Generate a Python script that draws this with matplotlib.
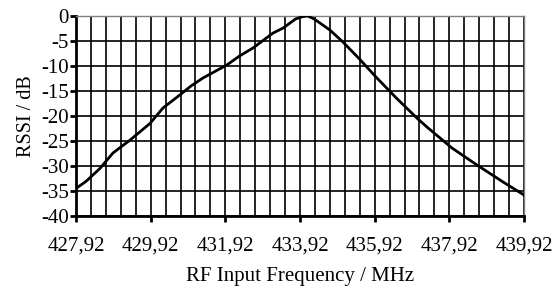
import matplotlib
matplotlib.use("Agg")
import matplotlib.pyplot as plt
import numpy as np

freq = [427.92, 428.2, 428.56, 428.91, 429.37, 429.9, 430.25, 430.7, 431.0, 431.32,
        431.96, 432.3, 432.66, 433.2, 433.47, 433.8, 434.0, 434.13, 434.3, 434.72,
        435.07, 435.5, 435.98, 436.5, 437.05, 437.32, 437.99, 438.66, 439.36, 439.92]
rssi = [-34.5, -33.0, -30.5, -27.4, -24.8, -21.5, -18.4, -15.8, -14.0, -12.4,
        -9.8, -8.0, -6.4, -3.4, -2.4, -0.6, -0.1, 0.0, -0.6, -2.8,
        -5.2, -8.5, -12.4, -16.4, -20.4, -22.2, -26.4, -29.8, -33.2, -35.8]
xtick_vals = [427.92, 429.92, 431.92, 433.92, 435.92, 437.92, 439.92]
xtick_labels = ["427,92", "429,92", "431,92", "433,92", "435,92", "437,92", "439,92"]
ytick_vals = [0, -5, -10, -15, -20, -25, -30, -35, -40]

plt.rcParams['font.family'] = ['Liberation Serif']
fig = plt.figure(figsize=(5.56, 2.91), dpi=100)
ax = fig.add_axes([76/556, 1 - 216/291, 448/556, 200/291])

minor_x = np.arange(427.92, 439.93, 0.4)
for xv in minor_x:
    ax.axvline(xv, color='black', lw=1.2, zorder=1)
for yv in ytick_vals:
    ax.axhline(yv, color='black', lw=1.2, zorder=1)

ax.plot(freq, rssi, color='black', lw=2, zorder=3)
ax.set_xlim(427.92, 439.92)
ax.set_ylim(-40, 0)
ax.set_xticks(xtick_vals)
ax.set_xticklabels(xtick_labels)
ax.set_yticks(ytick_vals)
ax.set_yticklabels([str(v) for v in ytick_vals])
ax.tick_params(axis='both', labelsize=15, width=2, length=4, direction='out', color='black')
ax.tick_params(axis='x', pad=11)
ax.tick_params(axis='y', pad=1)
for s in ['left', 'bottom']:
    ax.spines[s].set_linewidth(2)
    ax.spines[s].set_color('black')
for s in ['top', 'right']:
    ax.spines[s].set_linewidth(1)
    ax.spines[s].set_color('#808080')
ax.set_xlabel("RF Input Frequency / MHz", fontsize=15, labelpad=8)
ax.set_ylabel("RSSI / dB", fontsize=14.5, labelpad=4)
fig.savefig("out.png", dpi=100)
